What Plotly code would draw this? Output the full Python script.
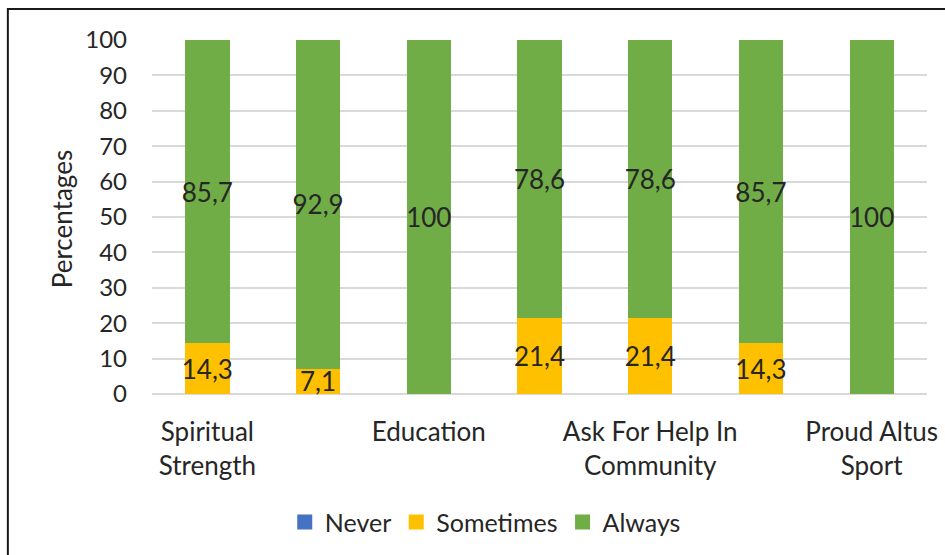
import plotly.graph_objects as go

# Categories (only every other one carries a visible tick label)
positions = [0, 1, 2, 3, 4, 5, 6]
tick_positions = [0, 2, 4, 6]
tick_labels = ["Spiritual<br>Strength", "Education", "Ask For Help In<br>Community", "Proud Altus<br>Sport"]

never = [0, 0, 0, 0, 0, 0, 0]
sometimes = [14.3, 7.1, 0, 21.4, 21.4, 14.3, 0]
always = [85.7, 92.9, 100, 78.6, 78.6, 85.7, 100]

series = [
    ("Never", never, "#4472C4"),
    ("Sometimes", sometimes, "#FFC000"),
    ("Always", always, "#70AD47"),
]

FONT = "Lato"
TEXT = "#262626"


def fmt(v):
    if v == 0:
        return ""
    if float(v).is_integer():
        return str(int(v))
    return f"{v:.1f}".replace(".", ",")


fig = go.Figure()
for name, vals, color in series:
    fig.add_trace(go.Bar(
        name=name,
        x=positions,
        y=vals,
        width=0.4,
        marker=dict(color=color, line=dict(width=0)),
        text=[fmt(v) for v in vals] if name != "Never" else None,
        textposition="inside",
        insidetextanchor="middle",
        textangle=0,
        constraintext="none",
        textfont=dict(family=FONT, size=26, color=TEXT),
        cliponaxis=False,
        showlegend=False,
    ))

# Legend entries with larger square swatches
for name, vals, color in series:
    fig.add_trace(go.Scatter(
        name=name,
        x=[None],
        y=[None],
        mode="markers",
        marker=dict(symbol="square", size=15, color=color),
        showlegend=True,
    ))

fig.update_layout(
    width=945,
    height=555,
    barmode="stack",
    plot_bgcolor="white",
    paper_bgcolor="white",
    margin=dict(l=152, r=18, t=40, b=161, autoexpand=False),
    font=dict(family=FONT, size=24, color=TEXT),
    showlegend=True,
    legend=dict(
        orientation="h",
        x=0.43,
        xanchor="center",
        y=-0.362,
        yanchor="middle",
        font=dict(family=FONT, size=25, color=TEXT),
        itemsizing="trace",
        itemwidth=30,
        traceorder="normal",
    ),
    xaxis=dict(
        range=[-0.5, 6.5],
        tickmode="array",
        tickvals=tick_positions,
        ticktext=tick_labels,
        showgrid=False,
        zeroline=False,
        showline=False,
        ticks="",
        automargin=False,
        ticklabelstandoff=20,
        tickfont=dict(family=FONT, size=26, color=TEXT),
    ),
    yaxis=dict(
        range=[0, 100],
        tickmode="linear",
        tick0=0,
        dtick=10,
        showgrid=True,
        gridcolor="#D9D9D9",
        gridwidth=1.5,
        zeroline=True,
        zerolinecolor="#D9D9D9",
        zerolinewidth=1.5,
        showline=False,
        ticks="",
        automargin=False,
        ticklabelstandoff=24,
        tickfont=dict(family=FONT, size=24, color=TEXT),
    ),
    annotations=[
        dict(
            text="Percentages", xref="paper", yref="paper",
            x=-0.116, y=0.494, xanchor="center", yanchor="middle",
            textangle=-90, showarrow=False,
            font=dict(family=FONT, size=26, color=TEXT),
        )
    ],
    shapes=[
        dict(
            type="rect", xref="paper", yref="paper",
            x0=-0.186, x1=1.2, y0=-0.8, y1=1.0876,
            line=dict(color="#1a1a1a", width=2),
            fillcolor="rgba(0,0,0,0)",
            layer="below",
        )
    ],
)

fig.write_html("out.html")
